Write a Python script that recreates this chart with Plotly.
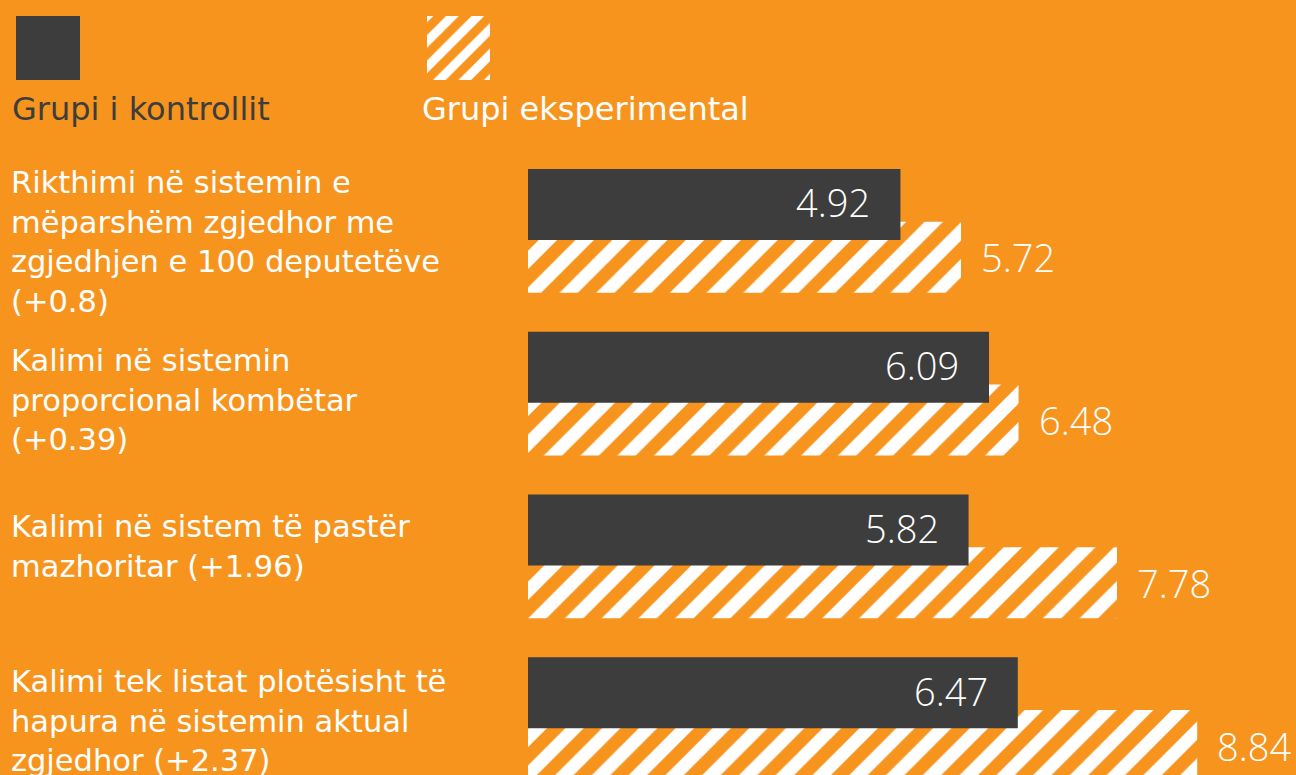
import plotly.graph_objects as go

# ---- data ----
category_labels = [
    "Rikthimi në sistemin e<br>mëparshëm zgjedhor me<br>zgjedhjen e 100 deputetëve<br>(+0.8)",
    "Kalimi në sistemin<br>proporcional kombëtar<br>(+0.39)",
    "Kalimi në sistem të pastër<br>mazhoritar (+1.96)",
    "Kalimi tek listat plotësisht të<br>hapura në sistemin aktual<br>zgjedhor (+2.37)",
]
control_values = [4.92, 6.09, 5.82, 6.47]
experimental_values = [5.72, 6.48, 7.78, 8.84]
series_names = ["Grupi i kontrollit", "Grupi eksperimental"]

# ---- style ----
W, H = 1296, 775
ORANGE = "#F7941E"
DARK = "#3D3D3D"
WHITE = "#FFFFFF"
FONT = "DejaVu Sans"
NUM_FONT = "Open Sans"
LABEL_YSHIFT = [-11, -6, 10, -2]

BAR_W = 0.436
OFF_DARK = -0.381
OFF_HATCH = -0.057
positions = list(range(len(category_labels)))

hatch = dict(shape="/", fgcolor=WHITE, bgcolor=ORANGE, fgopacity=1, size=26, solidity=0.5)

fig = go.Figure()
# hatched (experimental) below, drawn first
fig.add_trace(go.Bar(
    y=positions, x=experimental_values, orientation="h", width=BAR_W, offset=OFF_HATCH,
    name=series_names[1], marker=dict(color=ORANGE, line_width=0, pattern=hatch),
    hoverinfo="x", showlegend=False, xaxis="x", yaxis="y"))
fig.add_trace(go.Bar(
    y=positions, x=control_values, orientation="h", width=BAR_W, offset=OFF_DARK,
    name=series_names[0], marker=dict(color=DARK, line_width=0),
    hoverinfo="x", showlegend=False, xaxis="x", yaxis="y"))

# legend swatches as tiny subplots
fig.add_trace(go.Bar(y=[0], x=[1], orientation="h", width=1, marker=dict(color=DARK, line_width=0),
                     showlegend=False, hoverinfo="skip", xaxis="x2", yaxis="y2"))
fig.add_trace(go.Bar(y=[0], x=[1], orientation="h", width=1,
                     marker=dict(color=ORANGE, line_width=0,
                                 pattern=dict(shape="/", fgcolor=WHITE, bgcolor=ORANGE, fgopacity=1,
                                              size=18, solidity=0.5)),
                     showlegend=False, hoverinfo="skip", xaxis="x3", yaxis="y3"))

annotations = []
for i, lab in enumerate(category_labels):
    annotations.append(dict(
        text=lab, xref="paper", yref="y", x=9 / W, y=positions[i], xanchor="left", yanchor="middle",
        yshift=LABEL_YSHIFT[i], align="left", showarrow=False,
        font=dict(family=FONT, size=30.5, color=WHITE)))
    annotations.append(dict(
        text=f"{control_values[i]:.2f}", xref="x", yref="y", x=control_values[i],
        y=positions[i] + OFF_DARK + BAR_W / 2, xanchor="right", yanchor="middle", xshift=-28, yshift=2,
        showarrow=False, font=dict(family=NUM_FONT, size=38, color=WHITE, weight=300)))
    annotations.append(dict(
        text=f"{experimental_values[i]:.2f}", xref="x", yref="y", x=experimental_values[i],
        y=positions[i] + OFF_HATCH + BAR_W / 2, xanchor="left", yanchor="middle", xshift=18,
        showarrow=False, font=dict(family=NUM_FONT, size=38, color=WHITE, weight=300)))

annotations.append(dict(text=series_names[0], xref="paper", yref="paper", x=10 / W, y=1 - 109 / H,
                        xanchor="left", yanchor="middle", showarrow=False,
                        font=dict(family=FONT, size=32, color=DARK)))
annotations.append(dict(text=series_names[1], xref="paper", yref="paper", x=420 / W, y=1 - 109 / H,
                        xanchor="left", yanchor="middle", showarrow=False,
                        font=dict(family=FONT, size=32, color=WHITE)))

hidden = dict(visible=False, showgrid=False, zeroline=False, fixedrange=True)
top_px = 149.6
px_per_cat = 162.8
y_bottom = -0.5 + (H - top_px) / px_per_cat
x_max = (W - 528) / 75.7

fig.update_layout(
    width=W, height=H, margin=dict(l=0, r=0, t=0, b=0),
    paper_bgcolor=ORANGE, plot_bgcolor=ORANGE, barmode="overlay",
    xaxis=dict(domain=[528 / W, 1], range=[0, x_max], **hidden),
    yaxis=dict(domain=[0, 1 - top_px / H], range=[y_bottom, -0.5], **hidden),
    xaxis2=dict(domain=[16 / W, 80 / W], range=[0, 1], anchor="y2", **hidden),
    yaxis2=dict(domain=[1 - 80 / H, 1 - 16 / H], range=[-0.5, 0.5], anchor="x2", **hidden),
    xaxis3=dict(domain=[427 / W, 490 / W], range=[0, 1], anchor="y3", **hidden),
    yaxis3=dict(domain=[1 - 80 / H, 1 - 16 / H], range=[-0.5, 0.5], anchor="x3", **hidden),
    annotations=annotations,
    showlegend=False,
)

fig.write_html("out.html", config={"displayModeBar": False},
               post_script="document.body.style.margin='0px';document.body.style.background='" + ORANGE + "';")
